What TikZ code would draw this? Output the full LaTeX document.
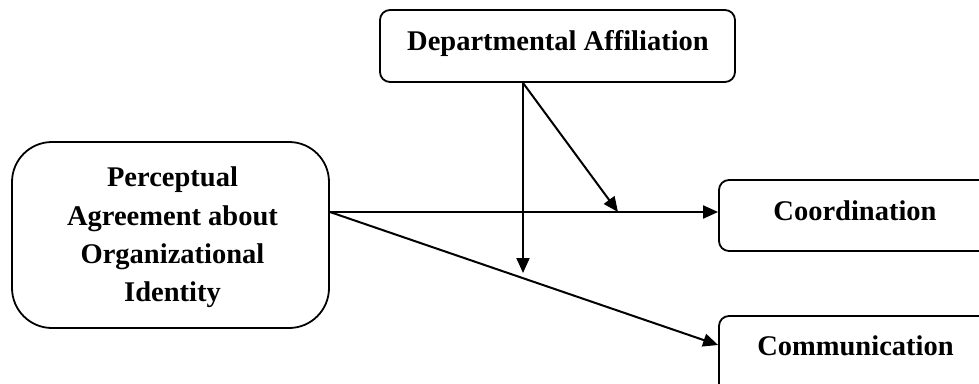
\documentclass[tikz,border=0pt]{standalone}
\usepackage{fontspec}
\setmainfont{Liberation Serif}
\usetikzlibrary{arrows.meta}
\begin{document}
\begin{tikzpicture}[x=1pt,y=-1pt,
  box/.style={draw,line width=1.8pt,inner sep=0pt},
  lbl/.style={font=\bfseries\fontsize{28.5}{38.3}\selectfont,align=center,inner sep=0pt},
  conn/.style={line width=2pt,-{Triangle[length=15pt,width=13pt]}}]
\useasboundingbox (0,0) rectangle (979,383);
% boxes
\node[box,rounded corners=40pt,minimum width=317pt,minimum height=186pt] (pa) at (170.5,235) {};
\node[lbl] (patext) at (172.5,237.5) {Perceptual\\Agreement about\\Organizational\\Identity};
\node[box,rounded corners=10pt,minimum width=355pt,minimum height=72pt] (da) at (557.5,46) {};
\node[lbl,anchor=base] (datext) at (558,50) {Departmental Affiliation};
\node[box,rounded corners=10pt,minimum width=280pt,minimum height=71pt] (co) at (859,215.5) {};
\node[lbl,anchor=base] (cotext) at (855,220) {Coordination};
\node[box,rounded corners=10pt,minimum width=280pt,minimum height=80pt] (cm) at (859,356) {};
\node[lbl,anchor=base] (cmtext) at (855.5,355) {Communication};
% connector points
\coordinate (pout) at (pa.east |- 0,212);
\coordinate (coin) at (co.west |- 0,212);
\coordinate (cmin) at (cm.west |- 0,345);
\coordinate (dout) at (da.south -| 523,0);
\coordinate (vtip) at (523,273);
\coordinate (dtip) at (618,212);
% connectors
\draw[conn] (pout) -- (coin);
\draw[conn] (pout) -- (cmin);
\draw[conn] (dout) -- (vtip);
\draw[conn] (dout) -- (dtip);
\end{tikzpicture}
\end{document}
